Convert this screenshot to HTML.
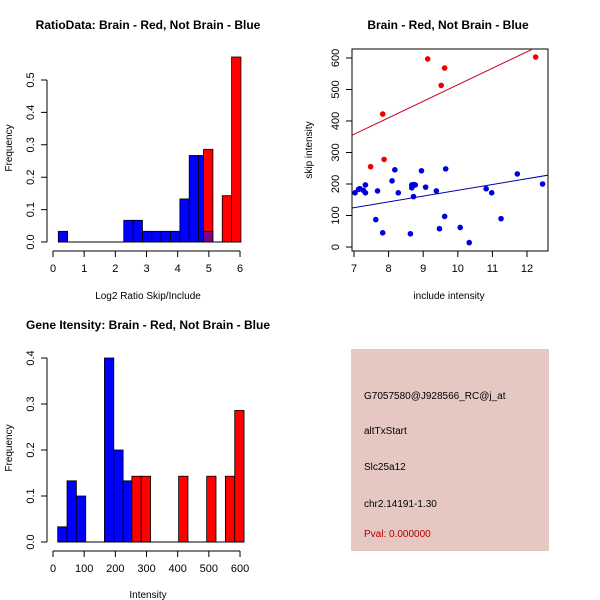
<!DOCTYPE html>
<html><head><meta charset="utf-8"><style>
body{margin:0;background:#fff}
svg{display:block;font-family:"Liberation Sans","DejaVu Sans",sans-serif}
text{fill:#000}
</style></head><body>
<svg id="s" width="600" height="600" viewBox="0 0 600 600">
<rect width="600" height="600" fill="#fff"/>
<text x="148" y="29" font-size="12" font-weight="bold" text-anchor="middle">RatioData: Brain - Red, Not Brain - Blue</text>
<text x="148" y="299" font-size="10" text-anchor="middle">Log2 Ratio Skip/Include</text>
<text transform="translate(12,148) rotate(-90)" font-size="10" text-anchor="middle">Frequency</text>
<text x="448" y="29" font-size="12" font-weight="bold" text-anchor="middle">Brain - Red, Not Brain - Blue</text>
<text x="449" y="299" font-size="10" text-anchor="middle">include intensity</text>
<text transform="translate(312,150) rotate(-90)" font-size="10" text-anchor="middle">skip intensity</text>
<text x="148" y="329" font-size="12" font-weight="bold" text-anchor="middle">Gene Itensity: Brain - Red, Not Brain - Blue</text>
<text x="148" y="598" font-size="10" text-anchor="middle">Intensity</text>
<text transform="translate(12,448) rotate(-90)" font-size="10" text-anchor="middle">Frequency</text>
<g>
<rect x="351" y="349" width="198" height="202" fill="#e5c8c2"/>
<text x="364" y="399" font-size="10">G7057580@J928566_RC@j_at</text>
<text x="364" y="434" font-size="10">altTxStart</text>
<text x="364" y="470" font-size="10">Slc25a12</text>
<text x="364" y="507" font-size="10">chr2.14191-1.30</text>
<text x="364" y="537" font-size="10" fill="#b00000" style="fill:#b00000">Pval: 0.000000</text>
</g>
</svg>
<script>
// Chart 1: ratio histogram
const ratioBlueEdges=[0.17,0.47,0.77,1.07,1.37,1.67,1.97,2.27,2.57,2.87,3.17,3.47,3.77,4.07,4.37,4.67,4.97];
const ratioBlueFreq=[0.033,0,0,0,0,0,0,0.067,0.067,0.033,0.033,0.033,0.033,0.133,0.267,0.267];
const ratioRedEdges=[4.83,5.13,5.43,5.73,6.03];
const ratioRedFreq=[0.286,0,0.143,0.571];
const ratioXTicks=[0,1,2,3,4,5,6];
const ratioYTicks=[0,0.1,0.2,0.3,0.4,0.5];
const ratioYTickLabels=["0.0","0.1","0.2","0.3","0.4","0.5"];
// Chart 2: scatter
const redX=[7.48,7.83,7.87,9.13,9.52,9.62,12.25];
const redY=[255,422,278,597,513,568,603];
const blueX=[7.03,7.13,7.17,7.27,7.33,7.33,7.63,7.68,7.83,8.1,8.18,8.28,8.63,8.67,8.67,8.72,8.72,8.77,8.95,9.07,9.38,9.47,9.62,9.65,10.07,10.33,10.82,10.98,11.25,11.72,12.45];
const blueY=[172,183,185,180,197,172,87,178,45,210,245,172,42,197,188,160,198,197,242,190,178,58,97,248,62,14,185,172,90,232,200];
const fitIntercept=[-9,-4];   // red, blue
const fitSlope=[52.4,18.4];
const scatterXTicks=[7,8,9,10,11,12];
const scatterYTicks=[0,100,200,300,400,500,600];
// Chart 3: intensity histogram
const intBlueEdges=[15,45,75,105,135,165,195,225,255];
const intBlueFreq=[0.033,0.133,0.1,0,0,0.4,0.2,0.133];
const intRedEdges=[253,283,313,343,373,403,433,463,493,523,553,583,613];
const intRedFreq=[0.143,0.143,0,0,0,0.143,0,0,0.143,0,0.143,0.286];
const intXTicks=[0,100,200,300,400,500,600];
const intYTicks=[0,0.1,0.2,0.3,0.4];
const intYTickLabels=["0.0","0.1","0.2","0.3","0.4"];

const svg=document.getElementById('s');
const NS='http://www.w3.org/2000/svg';
function mk(tag,attrs){const e=document.createElementNS(NS,tag);for(const k in attrs)e.setAttribute(k,attrs[k]);svg.appendChild(e);return e;}

function axes(prefix,xs,ys,xTicks,xLabels,yTicks,yLabels,xLine,yLine){
  const g=mk('path',{d:`M${xs(xTicks[0])},${xLine}H${xs(xTicks[xTicks.length-1])}`+xTicks.map(t=>`M${xs(t)},${xLine}v6`).join(''),stroke:'#000',fill:'none','stroke-width':1});
  
  
  xTicks.forEach((t,i)=>{const tx=mk('text',{x:xs(t),y:xLine+21,'font-size':11,'text-anchor':'middle'});tx.textContent=xLabels[i];
    
    });
  const h=mk('path',{d:`M${yLine},${ys(yTicks[0])}V${ys(yTicks[yTicks.length-1])}`+yTicks.map(t=>`M${yLine},${ys(t)}h-6`).join(''),stroke:'#000',fill:'none','stroke-width':1});
  
  
  yTicks.forEach((t,i)=>{const tx=mk('text',{transform:`translate(${yLine-13},${ys(t)}) rotate(-90)`,'font-size':11,'text-anchor':'middle'});tx.textContent=yLabels[i];
    
    });
}
function bars(prefix,edges,freq,xs,ys,color){
  freq.forEach((f,i)=>{if(f<=0)return;
    const x0=xs(edges[i]),x1=xs(edges[i+1]);
    const r=mk('rect',{x:x0,y:ys(f),width:x1-x0,height:ys(0)-ys(f),fill:color,stroke:'#000','stroke-width':0.8});
    
    });
}

// Chart 1
{const xs=v=>53+v*31.17, ys=v=>242-v*324;
 bars('ratio-blue',ratioBlueEdges,ratioBlueFreq,xs,ys,'#0000ff');
 bars('ratio-red',ratioRedEdges,ratioRedFreq,xs,ys,'#ff0000');
 // overlap of last blue bin with red: purple blend
 const i=ratioBlueFreq.length;
 const ov=mk('rect',{x:xs(ratioRedEdges[0]),y:ys(0.033),width:xs(ratioRedEdges[1])-xs(ratioRedEdges[0]),height:ys(0)-ys(0.033),fill:'#800080',stroke:'#000','stroke-width':0.8});
 
 
 const base=mk('line',{x1:xs(0.17),x2:xs(6.03),y1:ys(0),y2:ys(0),stroke:'#000'});
 
 
 axes('ratio',xs,ys,ratioXTicks,ratioXTicks.map(String),ratioYTicks,ratioYTickLabels,251,47);
}
// Chart 2
{const xs=v=>354+(v-7)*34.6, ys=v=>247-v*0.315;
 const box=mk('rect',{x:352,y:49,width:196,height:202,fill:'none',stroke:'#000'});
 
 
 const cp=mk('clipPath',{id:'cp'});const cr=document.createElementNS(NS,'rect');cr.setAttribute('x',352);cr.setAttribute('y',49);cr.setAttribute('width',196);cr.setAttribute('height',202);cp.appendChild(cr);
 const colors=['#cc0022','#0000aa'];
 [0,1].forEach(k=>{const x0=6.8,x1=12.7;
   const l=mk('line',{x1:xs(x0),y1:ys(fitIntercept[k]+fitSlope[k]*x0),x2:xs(x1),y2:ys(fitIntercept[k]+fitSlope[k]*x1),stroke:colors[k],'stroke-width':1,'clip-path':'url(#cp)'});
   
   });
 redX.forEach((x,i)=>{const c=mk('circle',{cx:xs(x),cy:ys(redY[i]),r:2.8,fill:'#ee0000'});
   
   });
 blueX.forEach((x,i)=>{const c=mk('circle',{cx:xs(x),cy:ys(blueY[i]),r:2.8,fill:'#0000dd'});
   
   });
 axes('scatter',xs,ys,scatterXTicks,scatterXTicks.map(String),scatterYTicks,scatterYTicks.map(String),251,352);
}
// Chart 3
{const xs=v=>53+v*0.3117, ys=v=>542-v*460;
 bars('intensity-blue',intBlueEdges,intBlueFreq,xs,ys,'#0000ff');
 bars('intensity-red',intRedEdges,intRedFreq,xs,ys,'#ff0000');
 const base=mk('line',{x1:xs(15),x2:xs(613),y1:ys(0),y2:ys(0),stroke:'#000'});
 
 
 axes('intensity',xs,ys,intXTicks,intXTicks.map(String),intYTicks,intYTickLabels,551,47);
}
</script>
</body></html>
